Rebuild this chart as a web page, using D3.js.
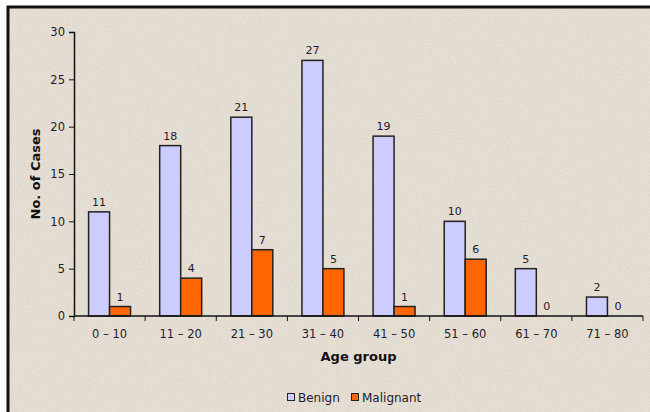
<!DOCTYPE html>
<html>
<head>
<meta charset="utf-8">
<script src="https://cdn.jsdelivr.net/npm/d3@7"></script>
<style>
  body { margin: 0; background: #fff; }
  svg text { font-family: "DejaVu Sans", Verdana, sans-serif; fill: #1c1c2c; }
</style>
</head>
<body>
<svg id="chart" width="650" height="412"></svg>
<script>
// data
var ageGroups = ["0 – 10", "11 – 20", "21 – 30", "31 – 40", "41 – 50", "51 – 60", "61 – 70", "71 – 80"];
var benign = [11, 18, 21, 27, 19, 10, 5, 2];
var malignant = [1, 4, 7, 5, 1, 6, 0, 0];
var seriesNames = ["Benign", "Malignant"];
var yTicks = [0, 5, 10, 15, 20, 25, 30];

var svg = d3.select('#chart');

// speckled paper texture
var defs = svg.append('defs');
var f = defs.append('filter').attr('id', 'paper')
    .attr('x', 0).attr('y', 0).attr('width', '100%').attr('height', '100%');
f.append('feTurbulence')
    .attr('type', 'fractalNoise')
    .attr('baseFrequency', 0.9)
    .attr('numOctaves', 2)
    .attr('seed', 3)
    .attr('result', 'noise');
f.append('feColorMatrix')
    .attr('in', 'noise')
    .attr('type', 'matrix')
    .attr('values', '0 0 0 0 0.93  0 0 0 0 0.91  0 0 0 0 0.87  0 0 0 -2.2 1.25');

// frame + background
svg.append('rect')
    .attr('x', 8).attr('y', 7)
    .attr('width', 660).attr('height', 420)
    .attr('fill', '#e2dacf');
svg.append('rect')
    .attr('x', 8).attr('y', 7)
    .attr('width', 660).attr('height', 420)
    .attr('filter', 'url(#paper)')
    .attr('opacity', 0.45);
svg.append('rect')
    .attr('x', 8).attr('y', 7)
    .attr('width', 660).attr('height', 420)
    .attr('fill', 'none')
    .attr('stroke', '#111')
    .attr('stroke-width', 3);

var margin = {left: 74, right: 7, top: 32, bottom: 96};
var width = 650 - margin.left - margin.right,
    height = 412 - margin.top - margin.bottom;

var g = svg.append('g')
    .attr('transform', 'translate(' + margin.left + ',' + margin.top + ')');

var x0 = d3.scaleBand()
    .domain(ageGroups)
    .range([0, width])
    .paddingInner(0.41)
    .paddingOuter(0.205);

var x1 = d3.scaleBand()
    .domain(seriesNames)
    .range([0, x0.bandwidth()]);

var y = d3.scaleLinear()
    .domain([0, 30])
    .range([height, 0]);

var color = d3.scaleOrdinal()
    .domain(seriesNames)
    .range(["#ccccff", "#ff6600"]);

var rows = ageGroups.map(function (a, i) {
    return {group: a, values: [
        {key: "Benign", value: benign[i]},
        {key: "Malignant", value: malignant[i]}
    ]};
});

// bars
var grp = g.selectAll('.grp')
    .data(rows)
    .enter()
    .append('g')
    .attr('class', 'grp')
    .attr('transform', d => 'translate(' + x0(d.group) + ',0)');

grp.selectAll('rect')
    .data(d => d.values.filter(v => v.value > 0))
    .enter()
    .append('rect')
    .attr('x', d => x1(d.key))
    .attr('y', d => y(d.value))
    .attr('width', x1.bandwidth())
    .attr('height', d => height - y(d.value))
    .attr('fill', d => color(d.key))
    .attr('stroke', '#222')
    .attr('stroke-width', 1.5);

// value labels
grp.selectAll('.lbl')
    .data(d => d.values)
    .enter()
    .append('text')
    .attr('class', 'lbl')
    .attr('x', d => x1(d.key) + x1.bandwidth() / 2)
    .attr('y', d => y(d.value) - 6)
    .attr('text-anchor', 'middle')
    .style('font-size', '11px')
    .text(d => d.value);

// y axis
var yAxis = g.append('g')
    .call(d3.axisLeft(y).tickValues(yTicks).tickSize(5).tickPadding(4));
yAxis.select('.domain').attr('stroke', '#111').attr('stroke-width', 1.5);
yAxis.selectAll('.tick line').attr('stroke', '#111');
yAxis.selectAll('text')
    .style('font-size', '11.5px')
    .style('font-family', '"DejaVu Sans", Verdana, sans-serif')
    .attr('fill', '#1c1c2c');

// x axis with ticks between groups
var xAxis = g.append('g')
    .attr('transform', 'translate(0,' + height + ')');
xAxis.append('line')
    .attr('x1', 0).attr('x2', width)
    .attr('stroke', '#111').attr('stroke-width', 1.5);
xAxis.selectAll('.xt')
    .data(d3.range(ageGroups.length + 1))
    .enter()
    .append('line')
    .attr('x1', i => i * width / ageGroups.length)
    .attr('x2', i => i * width / ageGroups.length)
    .attr('y1', 0).attr('y2', 5)
    .attr('stroke', '#111');
xAxis.selectAll('.xl')
    .data(ageGroups)
    .enter()
    .append('text')
    .attr('x', d => x0(d) + x0.bandwidth() / 2)
    .attr('y', 22)
    .attr('text-anchor', 'middle')
    .style('font-size', '11.5px')
    .text(d => d);

// axis titles
g.append('text')
    .attr('x', width / 2)
    .attr('y', height + 45)
    .attr('text-anchor', 'middle')
    .style('font-size', '13px')
    .style('font-weight', 'bold')
    .style('fill', '#111')
    .text('Age group');

g.append('text')
    .attr('transform', 'translate(-34,' + (height / 2) + ') rotate(-90)')
    .attr('text-anchor', 'middle')
    .style('font-size', '13px')
    .style('font-weight', 'bold')
    .style('fill', '#111')
    .text('No. of Cases');

// legend
var legend = svg.append('g')
    .attr('transform', 'translate(287,397)');
var lx = [0, 64];
var item = legend.selectAll('.leg')
    .data(seriesNames)
    .enter()
    .append('g')
    .attr('transform', (d, i) => 'translate(' + lx[i] + ',0)');
item.append('rect')
    .attr('x', 0.5).attr('y', -3.5)
    .attr('width', 7).attr('height', 7)
    .attr('fill', d => color(d))
    .attr('stroke', '#222');
item.append('text')
    .attr('x', 11)
    .attr('y', 4.5)
    .style('font-size', '12px')
    .text(d => d);
</script>
</body>
</html>
